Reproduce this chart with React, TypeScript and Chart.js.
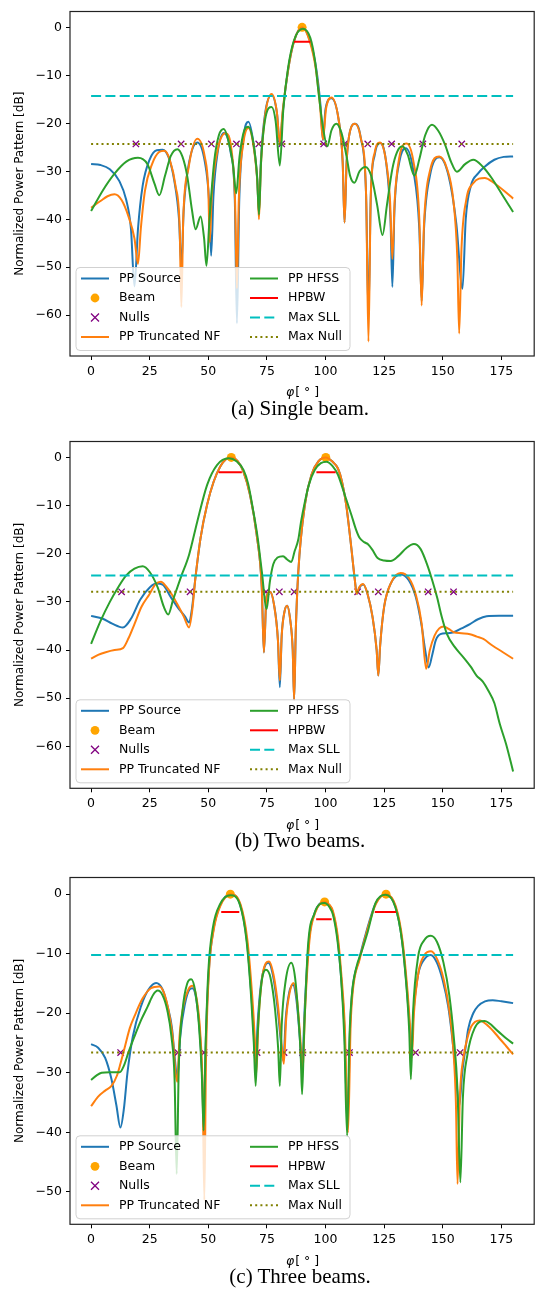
import React, { useEffect, useRef } from "react";
import { Chart, registerables } from "chart.js";
Chart.register(...registerables);

const FONT = "'DejaVu Sans', sans-serif";
const C_SRC = "#1f77b4";
const C_TNF = "#ff7f0e";
const C_HFSS = "#2ca02c";
const C_BEAM = "#ffa500";
const C_NULL = "#800080";
const C_HPBW = "#ff0000";
const C_SLL = "#00bfbf";
const C_MNULL = "#808000";

const xTicks = [0, 25, 50, 75, 100, 125, 150, 175];
const yTicksAB = [0, -10, -20, -30, -40, -50, -60];
const yTicksC = [0, -10, -20, -30, -40, -50];

// ---------- (a) Single beam ----------
const aSrcX = [0,4,8,12,15,17,18.5,20,22,25,28,30.5,33,35.5,37.5,38.5,39.5,41.5,45.3,48.5,50.3,51.2,52.2,54,56.6,59.5,61.3,62.2,63.2,65,67.1,69.5,70.9,71.6,72.4,74.2,77,79.3,80.5,81.7,84,86.5,90,93.5,96,97.8,98.9,100,102.5,105.5,107.3,108.1,109,110.5,112.6,115,117.3,118.3,119.3,121,123.2,125.8,127.7,128.5,129.4,131.5,134.2,137.5,140,141,142,144.5,148.5,152.5,155.8,158.4,159.8,162,165,168,172,176,180];
const aSrcY = [-28.5,-28.7,-29.6,-32,-36,-42,-54,-42,-33,-27.5,-25.6,-25.5,-27,-32,-40,-50,-38,-29,-24,-28,-36,-47.6,-35,-26,-22,-26,-36,-61.7,-36,-23,-19.7,-25,-32,-38.6,-28,-18,-14.1,-18,-24.5,-18,-9,-3,0,-3,-8.5,-16,-23.5,-17,-14.8,-19,-28,-40.7,-28,-21.5,-20.1,-23,-35,-60,-35,-26.5,-24.1,-28,-40,-54.1,-38,-28,-25.2,-30,-42,-57,-42,-31,-27.1,-31,-41,-54.5,-40,-33,-30.5,-29,-27.6,-27,-26.9];
const aTnfX = [0,4,7,10,13,16,18.5,20,21.2,23,26,29,31.2,33.5,36,37.8,38.5,39.3,41.5,45.3,48.5,50,50.6,51.5,54,57.3,60,61.4,62.2,63,65,67.1,69.5,71,71.6,72.4,74.2,77,79.2,80.5,81.7,84,86.5,90,93.3,95.8,97.6,98.9,100.2,102.5,105.5,107.3,108.1,109,110.5,112.6,115,117.3,118.3,119.3,121,123.2,125.5,127.5,128.5,129.5,131.5,134.5,137.5,140,141,142,144.5,148.5,151.5,154.5,156.2,157,158,160,163,167.9,172,176,180];
const aTnfY = [-37.6,-36.2,-35.2,-34.8,-36,-39.5,-44,-49.3,-42,-34,-28.5,-26,-25.7,-27.5,-33,-42,-58.3,-40,-29.5,-23.2,-27,-34,-44.8,-35,-25.5,-22.1,-26,-36,-54.4,-36,-24,-21,-25.5,-33,-40,-29,-18.5,-13.9,-17.5,-24,-17.5,-9,-3,0,-3,-8.5,-16,-23.4,-17,-14.6,-19,-28,-40.7,-28,-21.5,-20.1,-23,-35,-65.5,-35,-26,-24,-27,-36,-48.3,-36,-27,-24.2,-28,-40,-58,-41,-30,-26.9,-29,-36,-48,-63.8,-46,-36,-32.5,-31.4,-32.5,-34,-35.7];
const aHfX = [0,5,10,15,20,24,27,29.1,31.5,34,36.8,39,41,43,44.6,46.7,48.2,49.2,50.5,52.5,54.5,56.6,58.5,60.5,61.9,63.3,65.3,67.1,69,70.8,71.6,72.5,74.5,77,78.7,80.5,82,84,86.5,90.3,93.5,95.5,97,98.8,100.8,102.5,104.6,106.8,109,110.5,112.3,114.5,117,119.5,122,124.3,126.2,128.5,130.5,132.8,135,137.9,140,142.5,145.4,148,151,153.5,156,159.5,163,167,171,175.5,180];
const aHfY = [-38.3,-34,-30.5,-28,-27.2,-28.5,-32.5,-35,-31,-26.8,-25.4,-27,-31,-38,-42.1,-39.4,-44,-49.7,-40,-28,-22.5,-21.2,-23.5,-28.5,-34.6,-27,-21.5,-20.7,-23.5,-31,-39,-28,-18.5,-16.6,-19.5,-28.8,-17,-8.5,-2.8,-0.3,-2.2,-7,-13.5,-20.5,-24.8,-21.5,-20.1,-22,-27,-31,-32.4,-30,-29.1,-31,-37,-43.3,-37,-29.5,-26,-24.8,-26.5,-30.9,-27.5,-22.5,-20.3,-21.5,-24.5,-28,-30.1,-28.5,-27.6,-29,-31.5,-35,-38.5];
const aBeamX = [90];
const aBeamY = [0];
const aNullX = [19.1,38.4,51.3,62,71.5,81.3,99.2,108.1,118,128.2,141.5,158.1];
const aHpbwL = [86.5];
const aHpbwR = [93.5];
const aHpbwY = [-3];
const aSll = -14.3;
const aMaxNull = -24.3;

// ---------- (b) Two beams ----------
const bSrcX = [0,5,9,13.6,17,21,25,28,30.5,34,37.5,40,41.8,43,44.5,46.7,49.5,52.3,55.1,57.5,59.8,62.5,65,67.8,70.6,72.8,73.7,74.8,76.3,78,79.7,80.5,81.3,82.5,83.6,85,86,86.6,87.3,88.4,91.2,94,97,100.1,103,105.3,107,108.8,111,112.5,113.4,114.5,116.1,118,120,121.8,122.5,123.3,125,128,132,135.5,138.5,141,142.5,144,145.5,147,149,152,154.7,158,161.6,165,168.7,174,180];
const bSrcY = [-32.9,-33.5,-34.5,-35.3,-33.5,-29.5,-27,-26.2,-26.4,-29,-31.5,-33,-34.3,-31.5,-25,-16.7,-9.8,-5,-1.9,-0.4,0,-0.8,-3,-7.8,-16,-27,-40.5,-29,-27.9,-30.5,-38,-47.7,-37,-32,-30.8,-34,-40,-50.4,-36,-23.6,-9.8,-3.6,-0.8,0,-0.9,-2.3,-5,-9.8,-18.8,-25.5,-28.3,-27,-26.4,-28.5,-33,-40,-45.3,-39,-31,-26,-24.3,-25.5,-29,-35,-40,-43.6,-41,-38,-36.7,-36.5,-36.3,-35.5,-34.6,-33.6,-33,-32.9,-32.9];
const bTnfX = [0,3,5.9,10,13.6,16,18.5,21.5,24.9,27.5,29.8,32,34.5,36.8,39.5,41.8,43.2,44.5,46.7,49.5,52.3,55.1,57.5,59.8,62.5,65,67.8,70.6,72.8,73.7,74.8,76.3,78,79.7,80.5,81.3,82.5,83.6,85,86,86.6,87.3,88.4,91.2,94,97,100.1,103,105.3,107,108.8,111,112.5,113.2,114.3,116,118,120,121.8,122.5,123.3,125,128,132,135.5,138.5,141,142.9,144.5,146.5,148.5,150.4,152.5,154.7,158,161.6,164.5,167.3,171,175.5,180];
const bTnfY = [-41.8,-41,-40.5,-40,-39.6,-37.5,-34.6,-31,-28.4,-26.3,-25.8,-26.8,-28.5,-30.5,-33,-35.3,-31.5,-25,-16.7,-9.8,-5,-1.9,-0.4,0,-0.8,-3,-7.8,-16,-27,-40.5,-29,-27.9,-30.5,-38,-46.3,-37,-32,-30.8,-34,-40,-50.4,-36,-23.6,-9.8,-3.6,-0.8,0,-0.9,-2.3,-5,-9.8,-18.8,-25.5,-28.3,-27,-26.3,-28.5,-33,-40,-45.3,-39,-31,-26,-24,-25,-28.5,-34.5,-43.9,-40,-37,-35.5,-35.1,-35.6,-36.3,-36.5,-36.7,-37.2,-37.7,-39,-40.4,-41.8];
const bHfX = [0,4,8,11.5,15,18.5,22,25,28.4,31,32.9,35,38.2,41.8,45.3,49.5,53.7,58.7,62,65,67,69.2,71,72.8,74.9,76.2,77.7,79.5,81.9,83.6,85.4,86.8,88.4,89.5,91.2,93,95.4,98,100.4,103,105.3,108,111,113,114.5,116.5,118,120,122.2,125,127.8,131,134.5,137.7,140.5,143.3,145.5,147.6,149.5,151.8,155,158.8,162,164.4,167,169.4,172,174.3,177,180];
const bHfY = [-38.7,-34,-30,-27,-24.5,-23.1,-22.6,-23.8,-27,-31,-32.6,-29.5,-25,-20.2,-13.3,-5.7,-1.6,-0.2,-0.8,-2.6,-5.5,-11.2,-16.5,-23.6,-31.5,-26,-22.2,-20.8,-20.5,-21.2,-21.7,-19.5,-17,-13.5,-9.2,-5.5,-2.6,-1.2,-0.9,-1.8,-3.6,-7.5,-11.9,-15,-16.7,-17.6,-18,-19.2,-20.9,-21.4,-21.5,-20.5,-18.8,-18,-19,-22.2,-25.5,-29.1,-33,-36.7,-39.3,-41.5,-43.5,-45.3,-46.5,-48.4,-51,-55.3,-59.5,-65.2];
const bBeamX = [59.8, 100.1];
const bBeamY = [0, 0];
const bNullX = [13,42.2,74.6,80.3,86.6,113.7,122.5,143.8,154.6];
const bHpbwL = [54.4, 96.1];
const bHpbwR = [64.3, 104.3];
const bHpbwY = [-3.1, -3.1];
const bSll = -24.5;
const bMaxNull = -27.9;

// ---------- (c) Three beams ----------
const cSrcX = [0,3,6,8.7,10.8,12.5,14,15.5,17.8,21.3,24.5,27.7,30.5,32.6,34.5,35.8,36.8,38,40,42,43.2,45,46.5,47.5,48.1,48.9,50.2,52.3,55.1,59.4,63.6,66.4,68.5,69.5,70.2,71,72.5,74,75.6,77.5,79.5,81,82,83,84.5,86.1,87.5,89,90,91,93,95.3,97.5,99.5,101.5,103,105,106.5,108,109.4,110.5,111.5,114.3,117.2,121.3,125.6,129.8,132.6,134.7,135.8,136.6,137.5,139.5,142,144.9,147.5,150,152.3,154,155.5,157,158.3,160,160.8,163,165,168,171.3,175,180];
const cSrcY = [-25.2,-25.8,-27.5,-31.1,-35.5,-39.2,-36,-30,-23.9,-18.8,-16,-14.9,-16,-18.8,-22.5,-28,-31.1,-24,-18.5,-16,-15.8,-18,-24,-32,-40.5,-25,-13,-5.7,-1.8,0,-1.8,-7.7,-17.7,-24,-29.4,-22,-15,-12.2,-11.5,-13.5,-19,-25,-28,-21,-16.5,-15.2,-17.5,-24,-30,-20,-7.5,-3.2,-1.6,-1.3,-1.8,-2.9,-7,-13.3,-22,-38.3,-22,-16,-11,-6.6,-1.6,0,-2.1,-7.7,-16,-22,-26.6,-20,-13.5,-11,-10.2,-11.5,-14.5,-18.8,-24,-30,-35.6,-30,-25,-22.7,-20,-18.8,-18,-17.8,-18,-18.3];
const cTnfX = [0,3,6,8.7,11,12.5,14.5,16.5,18.5,22,25.5,29.1,31,33,34.8,36,36.8,37.7,39.5,41.5,43.2,45,46.5,47.6,48.3,49,50.2,52.3,55.1,59.6,63.8,66.6,68.7,69.8,70.5,71.3,72.8,74.5,75.9,77.8,79.8,81.2,82.2,83.2,84.7,86.3,87.7,89.2,90.2,91.2,93.2,95.5,97.7,99.7,101.7,103.2,105.2,106.7,108.2,109.6,110.7,111.7,114.5,117.4,121.5,125.8,130,132.8,134.9,136,136.8,137.7,139.7,142.2,145,147.7,150.5,152.8,154.5,155.6,156.3,157.3,159,160.5,162.2,165.7,169.5,173.5,177,180];
const cTnfY = [-35.6,-34,-33,-32.2,-30.5,-28.5,-25.5,-22.5,-20.5,-17.5,-15.8,-15.5,-16.5,-19.5,-24,-30,-31.5,-24,-18.5,-16,-15.4,-17.5,-23,-33,-51.4,-28,-13.5,-6,-2,0,-1.8,-7.5,-17,-24,-30,-22,-14.5,-11.6,-11.3,-13.5,-19,-25,-28.5,-21,-16.5,-14.9,-17.2,-24,-30,-20,-7.5,-3.2,-1.6,-1.3,-1.8,-2.9,-7,-13.3,-22,-40,-22,-16,-11,-6.6,-1.6,0,-2.1,-7.7,-16,-22,-27.5,-20,-13,-10.2,-9.6,-11,-14.5,-19.5,-26,-35,-48.7,-34,-27,-24.2,-22.2,-21.2,-22.2,-23.9,-25.5,-26.9];
const cHfX = [0,2.5,4.5,8,12.2,14,16,18.5,21.5,24.2,26.5,28.4,30.5,32.5,34.3,35.6,36.5,37.4,39,41,42.7,44.5,46,47.2,48,48.8,50,52,55,59.5,63.5,66.3,68.3,69.4,70.2,71,72.5,74.6,76.5,78.5,79.8,80.5,81.3,83,85.4,87,88.5,89.4,90,90.8,92.5,95.3,97.5,99.6,101.7,103.2,105,106.5,108,109.2,110.2,111.2,113,115.5,118,121.3,125.6,129.8,132.6,134.7,135.7,136.4,137.3,139.5,142,144.9,147.5,150.3,152.8,154.7,156.3,157.5,158.6,160.5,163.6,167.8,173.5,177,180];
const cHfY = [-31.2,-30.4,-30,-29.9,-29.9,-28.8,-26.5,-23.9,-21,-18.8,-16.9,-16.2,-17,-19.5,-24,-31,-47,-29,-19.5,-15,-14.3,-16.5,-22,-30,-39.7,-26,-13,-5.5,-1.7,-0.2,-1.8,-7.8,-17.5,-25,-32.2,-24,-15.5,-12.7,-14,-19.5,-26,-32.2,-22,-14.5,-11.5,-14,-21,-27,-33.6,-24,-8.8,-3.2,-1.7,-1.5,-2.2,-3.5,-7.5,-13.3,-24,-40.6,-24,-17,-12.5,-9.5,-6.3,-1.5,-0.1,-2.2,-7.8,-16.5,-23,-31.1,-20,-10.5,-7.8,-7,-8,-11.5,-17,-24,-33,-48.4,-34,-27,-22.5,-21.3,-23,-24.2,-25.1];
const cBeamX = [59.4, 99.6, 125.8];
const cBeamY = [0, -1.3, 0];
const cNullX = [12.6,37,48.2,70.8,82.3,90.2,110.2,138.4,157.4];
const cHpbwL = [55.5, 96, 121];
const cHpbwR = [63.2, 102.6, 130.1];
const cHpbwY = [-3, -4.2, -3];
const cSll = -10.2;
const cMaxNull = -26.6;

type Panel = {
  srcX: number[]; srcY: number[]; tnfX: number[]; tnfY: number[]; hfX: number[]; hfY: number[];
  beamX: number[]; beamY: number[]; nullX: number[]; hpL: number[]; hpR: number[]; hpY: number[];
  sll: number; maxNull: number; yMin: number; yMax: number; yTicks: number[];
  canvasTop: number; padTop: number; plotBottom: number; caption: string;
};

const CANVAS_H = 410;

const panels: Panel[] = [
  { srcX: aSrcX, srcY: aSrcY, tnfX: aTnfX, tnfY: aTnfY, hfX: aHfX, hfY: aHfY, beamX: aBeamX, beamY: aBeamY,
    nullX: aNullX, hpL: aHpbwL, hpR: aHpbwR, hpY: aHpbwY, sll: aSll, maxNull: aMaxNull,
    yMin: -68.5, yMax: 3.3, yTicks: yTicksAB, canvasTop: 0, padTop: 9, plotBottom: 356, caption: "(a) Single beam." },
  { srcX: bSrcX, srcY: bSrcY, tnfX: bTnfX, tnfY: bTnfY, hfX: bHfX, hfY: bHfY, beamX: bBeamX, beamY: bBeamY,
    nullX: bNullX, hpL: bHpbwL, hpR: bHpbwR, hpY: bHpbwY, sll: bSll, maxNull: bMaxNull,
    yMin: -68.7, yMax: 3.3, yTicks: yTicksAB, canvasTop: 430, padTop: 10.7, plotBottom: 358.3, caption: "(b) Two beams." },
  { srcX: cSrcX, srcY: cSrcY, tnfX: cTnfX, tnfY: cTnfY, hfX: cHfX, hfY: cHfY, beamX: cBeamX, beamY: cBeamY,
    nullX: cNullX, hpL: cHpbwL, hpR: cHpbwR, hpY: cHpbwY, sll: cSll, maxNull: cMaxNull,
    yMin: -55.45, yMax: 2.8, yTicks: yTicksC, canvasTop: 866, padTop: 10, plotBottom: 358.3, caption: "(c) Three beams." },
];

const pts = (xs: number[], ys: number[]) => xs.map((x, i) => ({ x, y: ys[i] }));
const fmt = (v: number) => (v < 0 ? "\u2212" + Math.abs(v) : String(v));

const decoPlugin = {
  id: "deco",
  afterDraw(chart: any) {
    const ctx = chart.ctx as CanvasRenderingContext2D;
    const ca = chart.chartArea;
    ctx.save();
    ctx.strokeStyle = "#222";
    ctx.lineWidth = 1.2;
    ctx.strokeRect(ca.left, ca.top, ca.right - ca.left, ca.bottom - ca.top);

    const bx = ca.left + 6, bw = 274, bh = 83;
    const by = ca.bottom - 5.5 - bh;
    ctx.beginPath();
    if ((ctx as any).roundRect) (ctx as any).roundRect(bx, by, bw, bh, 4);
    else ctx.rect(bx, by, bw, bh);
    ctx.fillStyle = "rgba(255,255,255,0.8)";
    ctx.fill();
    ctx.strokeStyle = "rgba(204,204,204,0.9)";
    ctx.lineWidth = 1;
    ctx.stroke();

    const rowY = (i: number) => by + 11 + 19.5 * i;
    const drawLine = (x1: number, y: number, color: string, dash: number[]) => {
      ctx.save();
      ctx.strokeStyle = color;
      ctx.lineWidth = 2;
      ctx.setLineDash(dash);
      ctx.beginPath();
      ctx.moveTo(x1, y);
      ctx.lineTo(x1 + 28, y);
      ctx.stroke();
      ctx.restore();
    };
    const c1 = ca.left + 11, t1 = ca.left + 49;
    const c2 = ca.left + 180, t2 = ca.left + 218;
    drawLine(c1, rowY(0), C_SRC, []);
    ctx.fillStyle = C_BEAM;
    ctx.beginPath();
    ctx.arc(c1 + 14, rowY(1), 4.4, 0, Math.PI * 2);
    ctx.fill();
    ctx.strokeStyle = C_NULL;
    ctx.lineWidth = 1.3;
    ctx.beginPath();
    ctx.moveTo(c1 + 10, rowY(2) - 4); ctx.lineTo(c1 + 18, rowY(2) + 4);
    ctx.moveTo(c1 + 10, rowY(2) + 4); ctx.lineTo(c1 + 18, rowY(2) - 4);
    ctx.stroke();
    drawLine(c1, rowY(3), C_TNF, []);
    drawLine(c2, rowY(0), C_HFSS, []);
    drawLine(c2, rowY(1), C_HPBW, []);
    drawLine(c2, rowY(2), C_SLL, [10, 4.3]);
    drawLine(c2, rowY(3), C_MNULL, [2, 3.2]);

    ctx.fillStyle = "#000";
    ctx.font = "12.5px " + FONT;
    ctx.textBaseline = "middle";
    ctx.textAlign = "left";
    ["PP Source", "Beam", "Nulls", "PP Truncated NF"].forEach((t, i) => ctx.fillText(t, t1, rowY(i)));
    ["PP HFSS", "HPBW", "Max SLL", "Max Null"].forEach((t, i) => ctx.fillText(t, t2, rowY(i)));

    ctx.save();
    ctx.translate(20, (ca.top + ca.bottom) / 2);
    ctx.rotate(-Math.PI / 2);
    ctx.textAlign = "center";
    ctx.textBaseline = "middle";
    ctx.font = "12px " + FONT;
    ctx.fillText("Normalized Power Pattern [dB]", 0, 0);
    ctx.restore();

    const cx = (ca.left + ca.right) / 2;
    const ty = ca.bottom + 37;
    ctx.font = "italic 12.5px " + FONT;
    const wPhi = ctx.measureText("\u03c6").width;
    ctx.font = "12.5px " + FONT;
    const rest = "[ \u00b0 ]";
    const wRest = ctx.measureText(rest).width;
    const x0 = cx - (wPhi + wRest) / 2;
    ctx.textAlign = "left";
    ctx.textBaseline = "middle";
    ctx.font = "italic 12.5px " + FONT;
    ctx.fillText("\u03c6", x0, ty);
    ctx.font = "12.5px " + FONT;
    ctx.fillText(rest, x0 + wPhi + 1, ty);
    ctx.restore();
  },
};

function PanelChart({ p }: { p: Panel }) {
  const ref = useRef<HTMLCanvasElement>(null);
  useEffect(() => {
    if (!ref.current) return;
    const segs: any[] = [];
    p.hpL.forEach((l, i) => {
      segs.push({ x: l, y: p.hpY[i] });
      segs.push({ x: p.hpR[i], y: p.hpY[i] });
      if (i < p.hpL.length - 1) segs.push({ x: (p.hpR[i] + p.hpL[i + 1]) / 2, y: null });
    });
    const lineDs = (label: string, data: any[], color: string, order: number, extra: any = {}) => ({
      label, data, borderColor: color, backgroundColor: color, borderWidth: 2, pointRadius: 0,
      cubicInterpolationMode: "monotone", order, ...extra,
    });
    const chart = new Chart(ref.current, {
      type: "line",
      data: {
        datasets: [
          lineDs("PP Source", pts(p.srcX, p.srcY), C_SRC, 8),
          { label: "Beam", data: pts(p.beamX, p.beamY), showLine: false, pointStyle: "circle", pointRadius: 4.5,
            backgroundColor: C_BEAM, borderColor: C_BEAM, borderWidth: 0, order: 7 },
          { label: "Nulls", data: p.nullX.map((x) => ({ x, y: p.maxNull })), showLine: false, pointStyle: "crossRot",
            pointRadius: 4.5, borderColor: C_NULL, backgroundColor: C_NULL, borderWidth: 1.3, order: 6 },
          lineDs("PP Truncated NF", pts(p.tnfX, p.tnfY), C_TNF, 5),
          lineDs("PP HFSS", pts(p.hfX, p.hfY), C_HFSS, 4),
          lineDs("HPBW", segs, C_HPBW, 3, { spanGaps: false, cubicInterpolationMode: "default", tension: 0 }),
          lineDs("Max SLL", [{ x: 0, y: p.sll }, { x: 180, y: p.sll }], C_SLL, 2, { borderDash: [10, 4.3], tension: 0 }),
          lineDs("Max Null", [{ x: 0, y: p.maxNull }, { x: 180, y: p.maxNull }], C_MNULL, 1, { borderDash: [2, 3.2], tension: 0 }),
        ] as any,
      },
      options: {
        animation: false,
        responsive: false,
        maintainAspectRatio: false,
        layout: { padding: { left: 0, right: 2, top: p.padTop, bottom: 0 } },
        plugins: { legend: { display: false }, tooltip: { enabled: false } },
        scales: {
          x: {
            type: "linear", min: -9, max: 189,
            afterBuildTicks: (s: any) => { s.ticks = xTicks.map((v) => ({ value: v })); },
            afterFit: (s: any) => { s.height = CANVAS_H - p.plotBottom; },
            grid: { display: true, drawOnChartArea: false, drawTicks: true, tickLength: 4, color: "#000", lineWidth: 1 },
            border: { display: false },
            ticks: { font: { family: FONT, size: 12.5 }, color: "#000", padding: 4, maxRotation: 0, autoSkip: false,
              callback: (v: any) => String(v) },
          },
          y: {
            type: "linear", min: p.yMin, max: p.yMax,
            afterBuildTicks: (s: any) => { s.ticks = p.yTicks.map((v) => ({ value: v })); },
            afterFit: (s: any) => { s.width = 70; },
            grid: { display: true, drawOnChartArea: false, drawTicks: true, tickLength: 4, color: "#000", lineWidth: 1 },
            border: { display: false },
            ticks: { font: { family: FONT, size: 12.5 }, color: "#000", padding: 4, autoSkip: false,
              callback: (v: any) => fmt(Number(v)) },
          },
        },
      } as any,
      plugins: [decoPlugin],
    });
    return () => chart.destroy();
  }, []);
  return (
    <canvas ref={ref} width={540} height={CANVAS_H}
      style={{ position: "absolute", left: 0, top: p.canvasTop, width: 540, height: CANVAS_H }} />
  );
}

export default function App() {
  return (
    <div style={{ position: "absolute", left: 0, top: 0, width: 540, height: 1294, background: "#fff", overflow: "hidden" }}>
      {panels.map((p, i) => (
        <React.Fragment key={i}>
          <PanelChart p={p} />
          <div style={{ position: "absolute", left: 150, width: 300, top: p.canvasTop + p.plotBottom + 52 - 13,
            textAlign: "center", fontFamily: "'Liberation Serif', 'Times New Roman', serif", fontSize: 21, lineHeight: "26px", color: "#000" }}>
            {p.caption}
          </div>
        </React.Fragment>
      ))}
    </div>
  );
}
